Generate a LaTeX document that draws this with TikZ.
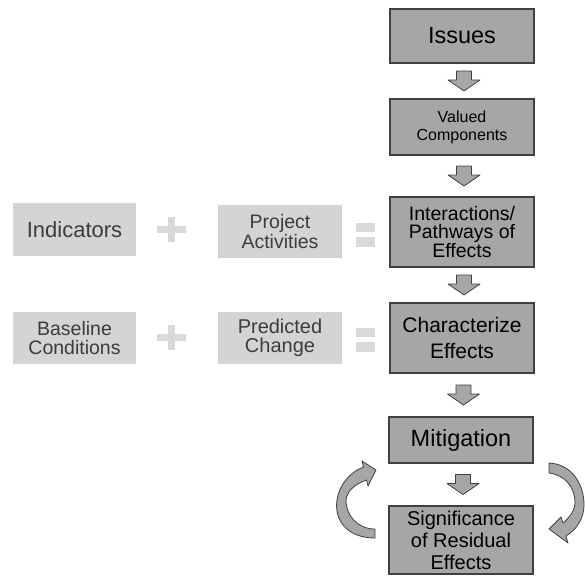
\documentclass[tikz,border=0pt]{standalone}
\usepackage{fontspec}
\setmainfont{Liberation Sans}
\usetikzlibrary{calc}
\usepackage{xcolor}
\definecolor{BoxFill}{RGB}{166,166,166}
\definecolor{BoxLine}{RGB}{64,64,64}
\definecolor{SideFill}{RGB}{212,212,212}
\definecolor{SideText}{RGB}{60,60,60}
\definecolor{SignFill}{RGB}{217,217,217}
\newcommand{\fsz}[2]{\fontsize{#1}{#2}\selectfont}
\tikzset{
  stepbox/.style={rectangle,draw=BoxLine,fill=BoxFill,line width=1.2pt,
                  minimum width=144pt,inner sep=0pt,align=center,text=black},
  sidebox/.style={rectangle,fill=SideFill,minimum width=123pt,minimum height=53pt,
                  inner sep=0pt,align=center,text=SideText},
  opsign/.style={fill=SignFill},
  loopar/.style={draw=BoxLine,fill=BoxFill,line width=0.8pt,line join=round},
  downar/.pic={
    \draw[loopar] (-7.5,-10) -- (7.5,-10) -- (7.5,-1) -- (16,-1) -- (0,10)
      -- (-16,-1) -- (-7.5,-1) -- cycle;
  },
}

\begin{document}
\begin{tikzpicture}[x=1pt,y=-1pt]
  \useasboundingbox (0,0) rectangle (585,575);
  % main steps
  \node[stepbox,minimum height=54pt,font=\fsz{23.5}{24}] (issues) at (462,36)
    {Issues};
  \node[stepbox,minimum height=56pt,font=\fsz{16}{18}] (valued) at (462,127)
    {Valued\\Components};
  \node[stepbox,minimum height=70pt,font=\fsz{19.5}{18.7}] (paths) at (462,232)
    {Interactions/\\Pathways of\\Effects};
  \node[stepbox,minimum height=70pt,font=\fsz{21}{26}] (charac) at (462,338)
    {Characterize\\Effects};
  \node[stepbox,minimum height=46pt,font=\fsz{23.5}{24}] (mitig) at (461,440)
    {Mitigation};
  \node[stepbox,minimum height=68pt,font=\fsz{20}{22}] (signif) at (461,540)
    {Significance\\of Residual\\Effects};
  % inputs
  \node[sidebox,font=\fsz{22}{24}] (indic) at (74.5,229.5)
    {Indicators};
  \node[sidebox,minimum width=124pt,font=\fsz{19.5}{18}] (projact) at (280,231.5)
    {Project\\Activities};
  \node[sidebox,minimum height=52pt,font=\fsz{19.5}{18.5}] (baseline) at (74.5,338)
    {Baseline\\Conditions};
  \node[sidebox,minimum width=124pt,minimum height=52pt,font=\fsz{20}{18.5}] (predict) at (280,338)
    {Predicted\\Change};
  % plus and equals
  \foreach \yy in {229.5,337.5} {
    \fill[opsign] (157,\yy-3.5) rectangle (186,\yy+3.5);
    \fill[opsign] (168,\yy-12.5) rectangle (175,\yy+12.5);
  }
  \foreach \yy in {234.5,339.5} {
    \fill[opsign] (356,\yy-12) rectangle (375,\yy-2.5);
    \fill[opsign] (356,\yy+2.5) rectangle (375,\yy+12);
  }
  % arrows between steps
  \pic at ($(issues.south)!0.5!(valued.north)+(2,0)$) {downar};
  \pic at ($(valued.south)!0.5!(paths.north)+(2,0)$) {downar};
  \pic at ($(paths.south)!0.5!(charac.north)+(2,0)$) {downar};
  \pic at ($(charac.south)!0.5!(mitig.north)+(2,0)$) {downar};
  \pic at ($(mitig.south)!0.5!(signif.north)+(2,0)$) {downar};
  % loop arrows
  \draw[loopar] (375,538) .. controls (346,538) and (334,519) .. (337,500)
    .. controls (339,485) and (350,472) .. (363.5,467) -- (362,461) -- (376,470)
    -- (368,486) -- (366.5,480) .. controls (355,484) and (347,491) .. (346,500)
    .. controls (346,516) and (358,529) .. (375,529) -- cycle;
  \draw[loopar] (549,463) .. controls (571,464) and (584,483) .. (584,505)
    .. controls (584,519) and (576,530) .. (566,536) -- (568,543) -- (549,529)
    -- (561,517) -- (563,523) .. controls (570,517) and (575,510) .. (575,503)
    .. controls (575,487) and (565,475) .. (549,473) -- cycle;
\end{tikzpicture}
\end{document}
